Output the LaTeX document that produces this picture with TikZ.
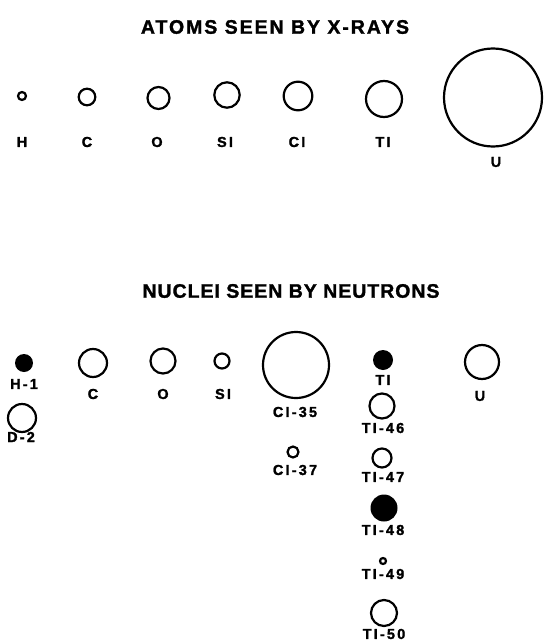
\documentclass[tikz,border=0pt]{standalone}
\usepackage{fontspec}
\setmainfont{Liberation Sans}
\newfontfamily\labfont{Liberation Sans}[LetterSpace=15,FakeBold=1.5]
\newfontfamily\titfont{Liberation Sans}[LetterSpace=10,FakeBold=1.5]
\newfontfamily\titfontb{Liberation Sans}[LetterSpace=5,FakeBold=1.5]
\begin{document}
\begin{tikzpicture}[x=1pt,y=-1pt,
  ring/.style={circle,draw=black,line width=2.2pt,inner sep=0pt,minimum size=#1},
  dot/.style={circle,fill=black,inner sep=0pt,minimum size=#1},
  lab/.style={inner sep=0pt,font=\labfont\bfseries\fontsize{14.5}{14.5}\selectfont},
  titl/.style={inner sep=0pt,font=\titfont\bfseries\fontsize{19.5}{19.5}\selectfont},
  titlb/.style={inner sep=0pt,font=\titfontb\bfseries\fontsize{19.5}{19.5}\selectfont}]
\useasboundingbox (0,0) rectangle (544,642);
% top title
\node[titl] (t1) at (275,27) {ATOMS SEEN BY X-RAYS};
% top row
\node[ring=8pt] (aH) at (22,96) {};
\node[ring=16.6pt] (aC) at (87,97) {};
\node[ring=22pt] (aO) at (158.5,98) {};
\node[ring=25.4pt] (aSI) at (227,95) {};
\node[ring=28.6pt] (aCI) at (298,96) {};
\node[ring=36pt] (aTI) at (384,99) {};
\node[ring=98pt] (aU) at (493,97.5) {};
\node[lab] (laH) at (22,142) {H};
\node[lab] (laC) at (87,142) {C};
\node[lab] (laO) at (157,142) {O};
\node[lab] (laSI) at (225,142) {SI};
\node[lab] (laCI) at (297,142) {CI};
\node[lab] (laTI) at (383,142) {TI};
\node[lab] (laU) at (496,162) {U};
% bottom title
\node[titlb] (t2) at (291,291) {NUCLEI SEEN BY NEUTRONS};
% bottom
\node[dot=18pt] (nH1) at (24,363) {};
\node[lab] (lnH1) at (24,384) {H-1};
\node[ring=28pt] (nD2) at (22,418) {};
\node[lab] (lnD2) at (21,437) {D-2};
\node[ring=28pt] (nC) at (93,363) {};
\node[lab] (lnC) at (93,394) {C};
\node[ring=25pt] (nO) at (163,361) {};
\node[lab] (lnO) at (163,394) {O};
\node[ring=15pt] (nSI) at (222,361) {};
\node[lab] (lnSI) at (223,394) {SI};
\node[ring=66pt] (nCI35) at (296,365) {};
\node[lab] (lnCI35) at (295,412) {CI-35};
\node[ring=11pt] (nCI37) at (293,452) {};
\node[lab] (lnCI37) at (295,470) {CI-37};
\node[dot=20pt] (nTI) at (383,360) {};
\node[lab] (lnTI) at (383,380) {TI};
\node[ring=25pt] (nTI46) at (382,406) {};
\node[lab] (lnTI46) at (383,428) {TI-46};
\node[ring=19pt] (nTI47) at (382,458) {};
\node[lab] (lnTI47) at (383,477) {TI-47};
\node[dot=27pt] (nTI48) at (384,508) {};
\node[lab] (lnTI48) at (383,530) {TI-48};
\node[ring=6pt] (nTI49) at (383,561) {};
\node[lab] (lnTI49) at (383,574) {TI-49};
\node[ring=26pt] (nTI50) at (384,613) {};
\node[lab] (lnTI50) at (384,634) {TI-50};
\node[ring=34pt] (nU) at (482,362) {};
\node[lab] (lnU) at (480,396) {U};
\end{tikzpicture}
\end{document}
